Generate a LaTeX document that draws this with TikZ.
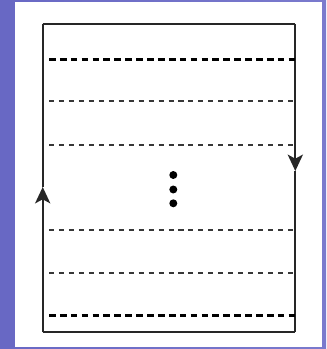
\documentclass[tikz,border=0pt]{standalone}
\usetikzlibrary{arrows.meta}
\definecolor{bgblue}{RGB}{104,104,196}
\definecolor{bglight}{RGB}{122,122,205}
\definecolor{dashgray}{RGB}{55,55,55}
\begin{document}
\begin{tikzpicture}[x=0.03cm, y=-0.03cm,
        thickdash/.style = {draw=black, line width=2.6pt, dash pattern=on 5.7pt off 3.6pt},
        thindash/.style = {draw=dashgray, line width=1.4pt, dash pattern=on 4.3pt off 4.2pt},
        pen/.style = {draw=black!85, line width=1.4pt},
        tip/.style = {-{Stealth[length=14pt, width=13pt, inset=3.5pt]}},
        dot/.style = {shape=circle, fill=black, inner sep=0pt, minimum size=6.8pt}]
            {
                % background and white sheet
                \shade[left color=bgblue, right color=bglight] (0, 0) rectangle (326, 349);
                \fill[white] (15, 2.5) rectangle (322, 346.5);

                % corners of the field
                \coordinate (tl) at (42.7, 24);
                \coordinate (tr) at (295.3, 24);
                \coordinate (bl) at (42.7, 332.3);
                \coordinate (br) at (295.3, 332.3);

                % where the arrows sit on the sides
                \coordinate (up) at (42.7, 187);
                \coordinate (down) at (295.3, 171);

                % ends of the lanes
                \foreach \n/\y in {1/59.4, 2/101, 3/144.7, 4/230, 5/273.3, 6/315.3} {
                    \coordinate (l\n) at (49, \y);
                    \coordinate (r\n) at (295.3, \y);
                }

                % dotted gap in the middle
                \node[dot] (d1) at (173.3, 175) {};
                \node[dot] (d2) at (173.3, 189.5) {};
                \node[dot] (d3) at (173.3, 203.3) {};
            }

            % outline, left side going up and right side going down
            \draw[pen] (bl) -- (br);
            \draw[pen] (tl) -- (tr);
            \draw[pen, tip] (bl) -- (up);
            \draw[pen] (up) -- (tl);
            \draw[pen, tip] (tr) -- (down);
            \draw[pen] (down) -- (br);

            % lanes
            \draw[thickdash] (l1) -- (r1);
            \draw[thindash] (l2) -- (r2);
            \draw[thindash] (l3) -- (r3);
            \draw[thindash] (l4) -- (r4);
            \draw[thindash] (l5) -- (r5);
            \draw[thickdash] (l6) -- (r6);

\end{tikzpicture}
\end{document}
